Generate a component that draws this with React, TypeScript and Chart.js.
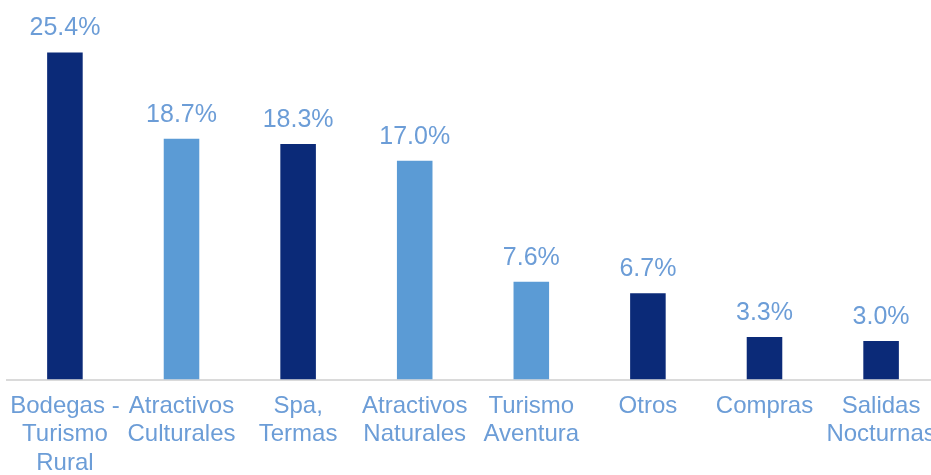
import React, { useEffect, useRef } from "react";
import { Chart, registerables } from "chart.js";

Chart.register(...registerables);

const categories: string[][] = [
  ["Bodegas -", "Turismo", "Rural"],
  ["Atractivos", "Culturales"],
  ["Spa,", "Termas"],
  ["Atractivos", "Naturales"],
  ["Turismo", "Aventura"],
  ["Otros"],
  ["Compras"],
  ["Salidas", "Nocturnas"],
];
const values: number[] = [25.4, 18.7, 18.3, 17.0, 7.6, 6.7, 3.3, 3.0];
const DARK = "#0b2a78";
const LIGHT = "#5b9bd5";
const barColors: string[] = [DARK, LIGHT, DARK, LIGHT, LIGHT, DARK, DARK, DARK];
const TEXT = "#6c9dd7";
const FONT = "'Liberation Sans', Arial, sans-serif";

const valueLabels = {
  id: "valueLabels",
  afterDatasetsDraw(chart: any) {
    const ctx = chart.ctx;
    const meta = chart.getDatasetMeta(0);
    ctx.save();
    ctx.font = `25px ${FONT}`;
    ctx.fillStyle = TEXT;
    ctx.textAlign = "center";
    ctx.textBaseline = "alphabetic";
    meta.data.forEach((bar: any, i: number) => {
      ctx.fillText(values[i].toFixed(1) + "%", bar.x, bar.y - 17);
    });
    ctx.restore();
  },
};

export default function App() {
  const ref = useRef<HTMLCanvasElement>(null);
  useEffect(() => {
    if (!ref.current) return;
    const chart = new Chart(ref.current, {
      type: "bar",
      data: {
        labels: categories,
        datasets: [
          {
            data: values,
            backgroundColor: barColors,
            borderWidth: 0,
            categoryPercentage: 1,
            barPercentage: 0.305,
          },
        ],
      },
      options: {
        animation: false,
        responsive: true,
        maintainAspectRatio: false,
        layout: { padding: { top: 19, left: 6, right: 6, bottom: 0 } },
        plugins: { legend: { display: false }, tooltip: { enabled: false } },
        scales: {
          x: {
            grid: { display: false, drawTicks: false, tickLength: 0 },
            border: { display: true, color: "#dadada", width: 2 },
            ticks: {
              autoSkip: false,
              maxRotation: 0,
              minRotation: 0,
              padding: 12,
              color: TEXT,
              font: { family: FONT, size: 24, lineHeight: 1.2 },
            },
          },
          y: { display: false, min: 0, max: 28 },
        },
      },
      plugins: [valueLabels],
    });
    return () => chart.destroy();
  }, []);
  return (
    <div style={{ position: "fixed", left: 0, top: 0, width: 931, height: 475, overflow: "hidden", background: "#fff" }}>
      <div style={{ position: "relative", left: -2, width: 950, height: 490 }}>
        <canvas ref={ref} />
      </div>
    </div>
  );
}
